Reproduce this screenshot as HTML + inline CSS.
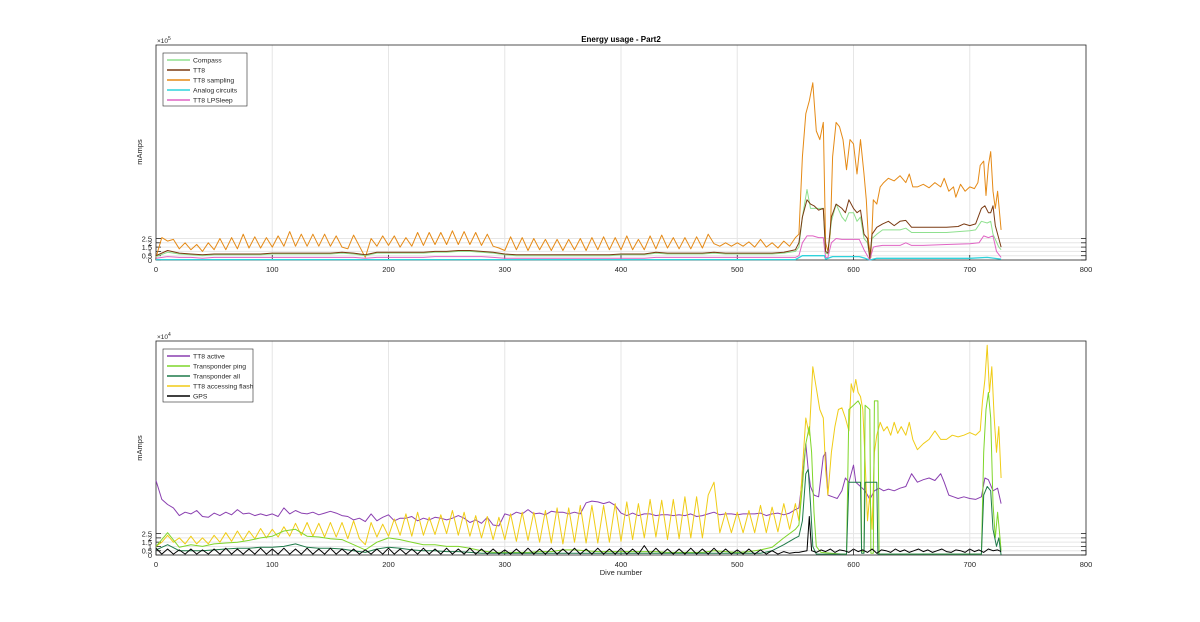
<!DOCTYPE html>
<html><head><meta charset="utf-8"><style>
body{margin:0;background:#fff;}
svg{display:block;font-family:"Liberation Sans",sans-serif;}
</style></head><body>
<svg id="chart" width="1200" height="622" viewBox="0 0 1200 622">
<rect width="1200" height="622" fill="#fff"/>
<g id="topPanel"></g>
<g id="botPanel"></g>
</svg>
<script>
// ---- data (top panel units: 1e4 mAmps; bottom panel units: 1e3 mAmps) ----
const xTicks=[0,100,200,300,400,500,600,700,800];
const topYTicks=[0,0.5,1,1.5,2,2.5];
const botYTicks=[0,0.5,1,1.5,2,2.5];
// early segments are sampled every 5 or 10 dives from dive 0 to 550
const sampEarly=[0.3,2.6,2.2,2.4,1.3,2.0,1.2,1.8,1.0,2.0,1.2,2.5,1.2,2.6,1.3,3.0,1.4,2.7,1.4,2.6,1.5,2.8,1.6,3.3,1.6,3.0,1.6,3.0,1.6,3.0,1.6,2.8,1.5,1.3,2.9,1.6,0.3,2.5,1.6,2.8,1.7,2.8,1.5,2.6,1.6,3.2,1.7,3.2,1.8,3.2,1.8,3.4,1.8,3.3,1.8,3.2,1.7,3.0,1.6,1.4,1.1,2.7,1.2,2.6,1.1,2.5,1.2,2.4,1.1,2.4,1.1,2.4,1.2,2.5,1.1,2.6,1.2,2.7,1.2,2.6,1.2,2.8,1.2,2.4,1.2,2.8,1.3,2.9,1.4,2.6,1.3,2.6,1.3,2.7,1.4,3.0,1.9,1.6,2.0,1.6,2.0,1.6,2.1,1.5,2.4,1.5,2.0,1.4,2.2,1.6,2.6];
const sampLateDive=[553,556,559,562,565,568,571,574,576,578,580,582,585,588,591,594,597,600,603,606,609,611,613,615,617,620,623,626,630,635,640,645,648,651,655,660,665,670,675,678,682,686,688,692,696,700,704,707,709,712,714,716,718,720,722,724,727];
const sampLateVal=[3.0,12,17,18.5,20.6,15,14,16,2,1,3,12,16,15.5,14,10.5,14,13.5,10,14,10,7,2,0.3,7,6.5,8.5,9,9.5,9.2,9.8,9,10,8.5,8.5,8.8,8.4,9,8.5,9.5,8,8.5,7.3,8.8,8,8.5,8.3,9,11,11.5,7.5,11,12.6,8,6,8,3.5];
const tt8Early=[0.5,1.1,0.8,0.7,0.6,0.7,0.7,0.7,0.7,0.7,0.8,0.8,0.8,0.8,0.8,0.8,0.9,0.8,0.6,0.9,0.9,0.9,0.9,0.9,1.0,1.0,1.1,1.1,1.0,0.9,0.7,0.6,0.6,0.6,0.6,0.6,0.6,0.6,0.6,0.6,0.7,0.7,0.7,0.9,0.8,0.8,0.8,0.8,0.9,0.8,0.8,0.8,0.8,0.8,0.9,1.2];
const tt8LateDive=[553,556,560,563,566,570,574,576,578,581,585,590,593,596,600,603,606,609,612,614,616,620,625,630,635,640,645,650,660,670,680,690,695,700,705,710,713,716,718,720,722,725,727];
const tt8LateVal=[2,5,7,6.5,6.3,5.8,6,1,0.8,5,6.5,6,5.5,7,6,5.5,5.8,3,2.5,0.2,3,3.8,4.2,4.5,4,4.5,4.6,3.8,3.8,3.8,3.8,3.9,4.2,4,4.2,6,6.3,5.5,5.5,6.3,4,2.5,1.5];
const compEarly=[0.4,0.9,0.7,0.6,0.5,0.6,0.6,0.6,0.6,0.6,0.7,0.7,0.7,0.7,0.7,0.7,0.8,0.7,0.5,0.8,0.8,0.8,0.8,0.8,0.9,0.9,1.0,1.0,0.9,0.8,0.6,0.5,0.5,0.5,0.5,0.5,0.5,0.5,0.5,0.5,0.6,0.6,0.6,0.8,0.7,0.7,0.7,0.7,0.8,0.7,0.7,0.7,0.7,0.7,0.8,1.0];
const compLateDive=[553,556,560,563,566,570,574,576,578,581,585,590,593,596,600,603,606,609,612,614,616,620,625,630,640,645,650,660,670,680,690,700,705,710,715,718,720,725,727];
const compLateVal=[1.5,5,8.2,6,6,6,6,0.8,0.7,4.5,6.5,5,4.5,5.5,5.5,4.5,5,2.5,2,0.2,2.5,3,3.5,3.5,3.5,3.7,3.2,3.2,3.2,3.2,3.3,3.4,3.5,4.5,4.3,4.5,3,1.5,1.2];
const lpsEarly=[0.2,0.4,0.3,0.3,0.2,0.3,0.3,0.3,0.3,0.3,0.3,0.3,0.3,0.3,0.3,0.3,0.3,0.3,0.2,0.3,0.3,0.3,0.3,0.3,0.4,0.4,0.4,0.4,0.4,0.3,0.2,0.2,0.2,0.2,0.2,0.2,0.2,0.2,0.2,0.2,0.2,0.2,0.2,0.3,0.3,0.3,0.3,0.3,0.3,0.3,0.3,0.3,0.3,0.3,0.3,0.3];
const lpsLateDive=[553,556,560,565,570,574,576,578,581,585,590,600,605,609,614,617,620,625,630,640,645,650,660,680,700,708,712,716,720,723,727];
const lpsLateVal=[0.5,2,2.8,2.8,2.6,2.6,0.3,0.3,2,2.5,2.4,2.4,2.4,1.2,0,1.5,1.6,1.7,1.7,1.7,2,1.7,1.7,1.8,1.9,2,2.8,2.6,2.8,1,0.3];
const anaDive=[0,550,556,575,576,582,605,610,614,620,700,715,727];
const anaVal=[0.05,0.05,0.5,0.5,0.1,0.4,0.4,0.2,0,0.2,0.2,0.3,0.1];

const actEarly=[8.7,6.5,5.9,5.5,4.6,5.0,4.8,5.2,4.5,4.4,4.9,4.6,5.0,4.7,5.3,4.8,4.9,4.6,4.8,4.6,4.8,4.5,5.5,4.8,5.2,4.9,4.8,5.0,4.7,4.9,5.1,4.9,4.6,4.5,4.1,4.3,3.9,4.8,4.0,4.4,4.7,4.0,4.3,4.3,4.5,4.0,4.3,4.1,4.4,4.3,4.1,4.3,4.6,4.3,3.8,4.1,3.7,4.4,3.5,3.4,4.8,4.6,5.0,4.8,5.3,4.8,4.9,4.7,5.1,5.0,5.0,4.8,5.0,4.8,6.1,6.3,6.2,6.0,6.2,5.8,4.9,4.6,4.9,4.6,4.8,4.8,4.6,4.7,4.7,4.6,4.7,4.6,4.8,4.5,4.6,4.8,5.0,4.7,4.8,4.8,4.7,4.8,4.8,4.8,4.9,4.6,4.8,4.9,4.7,4.9,5.3];
const actLateDive=[553,556,559,561,563,566,570,574,576,578,582,586,590,593,596,600,602,606,610,614,618,622,626,630,635,640,645,650,655,660,665,670,675,678,682,686,690,695,700,705,710,713,716,720,724,727];
const actLateVal=[5.5,9,13,10,8,7,6.8,11.5,12,7,6.8,6.6,7.5,9,8.5,10.5,8.5,8,7.5,6.5,7.5,7.8,7.5,7.7,7.5,7.8,8,9.5,8.5,8.8,9.0,8.7,9.5,8.5,7,6.8,6.6,6.8,6.6,6.5,6.8,9,8.8,7.5,7.8,6];
const flashEarly=[1.0,1.5,2.3,1.5,2.0,1.3,2.2,1.3,2.0,1.3,2.3,1.5,2.6,1.6,2.8,1.7,2.8,1.9,3.1,2.0,3.0,2.1,3.3,2.2,3.7,2.3,3.8,2.2,3.7,2.1,3.8,2.1,3.8,1.9,4.0,1.9,1.2,3.8,2.1,3.6,2.2,4.2,2.3,4.8,2.2,5.0,2.3,4.4,2.4,4.7,2.5,5.2,2.3,5.0,2.2,4.6,2.0,4.5,1.8,4.4,1.8,4.8,1.6,5.0,1.7,5.0,1.5,5.2,1.4,5.5,1.3,5.5,1.5,5.8,1.4,5.8,1.4,5.8,1.5,6.0,1.6,6.2,1.8,6.0,2.0,6.5,2.1,6.4,1.8,6.5,1.9,6.8,2.0,6.8,2.0,7.0,8.5,2.6,5.0,2.6,5.0,2.6,5.2,2.6,5.8,2.6,5.6,2.7,6.0,3.0,6.0];
const flashLateDive=[553,556,559,562,565,568,571,574,576,578,581,584,587,590,593,596,598,600,602,604,606,608,610,612,614,616,618,620,623,626,629,632,635,638,641,645,648,651,655,660,665,670,675,680,685,690,695,700,705,709,711,713,715,717,719,721,723,725,727];
const flashLateVal=[4,10,16,14,22,19.5,17,16,10,7,12,15,17,17.2,16,14.5,20,19,20.5,19,18.5,17,11,4,7,3,12,14,15.5,14.5,15,14,15.5,14.2,15,14,15.5,13.5,12.3,13,13.5,14.5,13.5,13.5,14,13.8,14,14.3,14,14.5,18,20.5,24.5,19,22,16,12,15,9];
const pingEarly=[1.0,2.6,0.9,1.2,1.0,1.3,1.4,1.5,1.7,2.0,2.2,2.8,3.0,2.2,2.1,1.9,1.8,1.2,0.6,1.5,2.0,1.8,1.5,1.2,1.2,1.0,1.0,0.8,0.5,0.3,0.3,0.3,0.3,0.4,0.4,0.6,0.6,0.5,0.4,0.4,0.4,0.4,0.4,0.4,0.3,0.3,0.3,0.3,0.5,0.4,0.3,0.4,0.6,0.9,2.0,3.0];
const pingLateDive=[553,556,559,562,564,566,568,572,590,594,596,600,604,606,607,609,610,614,615,617,618,621,622,710,712,714,716,718,720,722,724,726,727];
const pingLateVal=[3.5,8,13,15,12,5,1,0.3,0.1,0.1,17,17.5,18,17.5,0.5,0.3,17.5,17,0.2,0.2,18,18,0.1,0.1,12,17,19,16,6,2,5,2,0.5];
const allEarly=[0.6,1.2,0.5,0.5,0.5,0.6,0.7,0.8,0.8,0.9,0.9,1.0,1.3,0.9,0.8,0.8,0.7,0.5,0.3,0.7,0.9,0.8,0.6,0.5,0.5,0.4,0.4,0.3,0.2,0.2,0.2,0.2,0.2,0.2,0.2,0.2,0.2,0.2,0.2,0.2,0.2,0.2,0.2,0.2,0.2,0.2,0.2,0.2,0.2,0.2,0.2,0.2,0.2,0.5,1.2,2.0];
const allLateDive=[553,556,559,561,563,565,568,594,596,606,607,609,610,620,621,710,712,715,718,720,723,725,727];
const allLateVal=[2.2,4,9.5,10,6,1,0.1,0.1,8.5,8.5,0.2,0.2,8.5,8.5,0.1,0.1,7,8,7.5,3,1,2,0];
const gpsEarly=[0.8,0.1,0.7,0.1,0.6,0.1,0.7,0.1,0.6,0.1,0.7,0.1,0.8,0.1,0.7,0.1,0.7,0.1,0.8,0.1,0.7,0.1,0.8,0.1,0.7,0.1,0.8,0.1,0.7,0.1,0.8,0.1,0.7,0.1,0.7,0.1,0.6,0.1,0.7,0.1,0.8,0.1,0.7,0.1,0.7,0.1,0.8,0.1,0.7,0.1,0.8,0.1,0.7,0.1,0.8,0.1,0.7,0.1,0.7,0.1,0.6,0.1,0.7,0.1,0.8,0.1,0.7,0.1,0.8,0.1,0.7,0.1,0.8,0.1,0.7,0.1,0.8,0.1,0.7,0.1,0.8,0.1,0.7,0.1,1.1,0.1,0.8,0.1,0.7,0.1,0.7,0.1,0.8,0.1,0.7,0.1,0.8,0.1,0.7,0.1,0.6,0.1,0.7,0.1,0.6,0.1,0.5,0.1,0.4,0.2,0.3];
const gpsLateDive=[553,556,560,562,564,568,572,576,580,584,588,592,596,600,604,608,612,616,620,624,628,632,636,640,644,648,652,656,660,664,668,672,676,680,684,688,692,696,700,704,708,712,716,720,724,727];
const gpsLateVal=[0.3,0.4,0.5,4.5,0.5,0.3,0.6,0.4,0.7,0.3,0.6,0.5,0.3,0.7,0.4,0.6,0.3,0.7,0.2,0.6,0.5,0.3,0.7,0.4,0.6,0.3,0.5,0.7,0.4,0.6,0.3,0.5,0.7,0.4,0.3,0.6,0.5,0.3,0.7,0.4,0.6,0.3,0.7,0.5,0.6,0.4];

// ---- rendering ----
const NS='http://www.w3.org/2000/svg';
const L=156,R=1086;
const X=d=>L+d*(R-L)/800;
const topY=v=>260-v*(215/25);
const botY=v=>555-v*(214/25);
function mk(tag,attrs,parent){const e=document.createElementNS(NS,tag);for(const k in attrs)e.setAttribute(k,attrs[k]);parent.appendChild(e);return e;}
function earlyDives(n,step){const a=[];for(let i=0;i<n;i++)a.push(i*step);return a;}

function axes(g,Y,yT,yTop,yBottom){
  const grid=mk('g',{},g);
  
  
  xTicks.forEach(t=>{mk('line',{x1:X(t),x2:X(t),y1:yTop,y2:yBottom,stroke:'#e6e6e6','stroke-width':1},grid);});
  yT.forEach(t=>{mk('line',{x1:L,x2:R,y1:Y(t),y2:Y(t),stroke:'#e6e6e6','stroke-width':1},grid);});
  const ax=mk('g',{},g);
  
  
  mk('rect',{x:L,y:yTop,width:R-L,height:yBottom-yTop,fill:'none',stroke:'#262626','stroke-width':0.8},ax);
  xTicks.forEach(t=>{
    mk('line',{x1:X(t),x2:X(t),y1:yBottom,y2:yBottom-5,stroke:'#262626','stroke-width':0.8},ax);
    const tx=mk('text',{x:X(t),y:yBottom+12,'font-size':7.5,'text-anchor':'middle',fill:'#262626'},ax);
    tx.textContent=t;
    
    
  });
  yT.forEach(t=>{
    mk('line',{x1:L,x2:L+5,y1:Y(t),y2:Y(t),stroke:'#262626','stroke-width':0.8},ax);
    mk('line',{x1:R,x2:R-5,y1:Y(t),y2:Y(t),stroke:'#262626','stroke-width':0.8},ax);
    const tx=mk('text',{x:L-4,y:Y(t)+3,'font-size':7.5,'text-anchor':'end',fill:'#262626'},ax);
    tx.textContent=t;
    
    
  });
}
function series(g,Y,dives,vals,color,name,w){
  const pts=dives.map((d,i)=>X(d).toFixed(1)+','+Y(vals[i]).toFixed(1)).join(' ');
  const p=mk('polyline',{points:pts,fill:'none',stroke:color,'stroke-width':w||1,'stroke-linejoin':'round'},g);
  
  
}
function legend(g,x,y,w,items){
  const lg=mk('g',{},g);
  
  
  mk('rect',{x:x,y:y,width:w,height:items.length*10+3,fill:'#fff',stroke:'#262626','stroke-width':0.6},lg);
  items.forEach((it,i)=>{
    const e=mk('g',{},lg);
    
    
    const yy=y+7+i*10;
    mk('line',{x1:x+4,x2:x+27,y1:yy,y2:yy,stroke:it[1],'stroke-width':1.6},e);
    const t=mk('text',{x:x+30,y:yy+2.5,'font-size':6.8,fill:'#262626'},e);
    t.textContent=it[0];
  });
}
const topG=document.getElementById('topPanel'),botG=document.getElementById('botPanel');
axes(topG,topY,topYTicks,45,260);
axes(botG,botY,botYTicks,341,555);
const e5=earlyDives(111,5),e10=earlyDives(56,10);
const C={comp:'#8fe08f',tt8:'#7a3a12',samp:'#e58a16',ana:'#2fd3dc',lps:'#e064c4',act:'#8a3fb0',ping:'#7fd62a',all:'#1f7a4a',flash:'#f0cc16',gps:'#000'};
const ts=mk('g',{},topG);


series(ts,topY,e5.concat(sampLateDive),sampEarly.concat(sampLateVal),C.samp,'tt8-sampling-line');
series(ts,topY,anaDive,anaVal,C.ana,'analog-circuits-line',1.3);
series(ts,topY,e10.concat(lpsLateDive),lpsEarly.concat(lpsLateVal),C.lps,'tt8-lpsleep-line');
series(ts,topY,e10.concat(compLateDive),compEarly.concat(compLateVal),C.comp,'compass-line');
series(ts,topY,e10.concat(tt8LateDive),tt8Early.concat(tt8LateVal),C.tt8,'tt8-line');
const bs=mk('g',{},botG);


series(bs,botY,e5.concat(actLateDive),actEarly.concat(actLateVal),C.act,'tt8-active-line');
series(bs,botY,e5.concat(flashLateDive),flashEarly.concat(flashLateVal),C.flash,'tt8-accessing-flash-line');
series(bs,botY,e10.concat(pingLateDive),pingEarly.concat(pingLateVal),C.ping,'transponder-ping-line');
series(bs,botY,e10.concat(allLateDive),allEarly.concat(allLateVal),C.all,'transponder-all-line');
series(bs,botY,e5.concat(gpsLateDive),gpsEarly.concat(gpsLateVal),C.gps,'gps-line');
legend(topG,163,53,84,[['Compass',C.comp],['TT8',C.tt8],['TT8 sampling',C.samp],['Analog circuits',C.ana],['TT8 LPSleep',C.lps]]);
legend(botG,163,349,90,[['TT8 active',C.act],['Transponder ping',C.ping],['Transponder all',C.all],['TT8 accessing flash',C.flash],['GPS',C.gps]]);
function txt(p,attrs,s,name){const t=mk('text',attrs,p);t.textContent=s;return t;}
txt(topG,{x:621,y:42,'font-size':8,'font-weight':'bold','text-anchor':'middle',fill:'#000'},'Energy usage - Part2','chart-title');
const m1=txt(topG,{x:157,y:43,'font-size':6.5,fill:'#262626'},'×10','top-exponent-label');
const s1=mk('tspan',{dy:-3,'font-size':5},m1);s1.textContent='5';
const m2=txt(botG,{x:157,y:339,'font-size':6.5,fill:'#262626'},'×10','bottom-exponent-label');
const s2=mk('tspan',{dy:-3,'font-size':5},m2);s2.textContent='4';
txt(topG,{x:142,y:152,'font-size':7.5,'text-anchor':'middle',fill:'#262626',transform:'rotate(-90 142 152)'},'mAmps','top-y-axis-title');
txt(botG,{x:142,y:448,'font-size':7.5,'text-anchor':'middle',fill:'#262626',transform:'rotate(-90 142 448)'},'mAmps','bottom-y-axis-title');
txt(botG,{x:621,y:575,'font-size':7.5,'text-anchor':'middle',fill:'#262626'},'Dive number','x-axis-title');
</script>
</body></html>
